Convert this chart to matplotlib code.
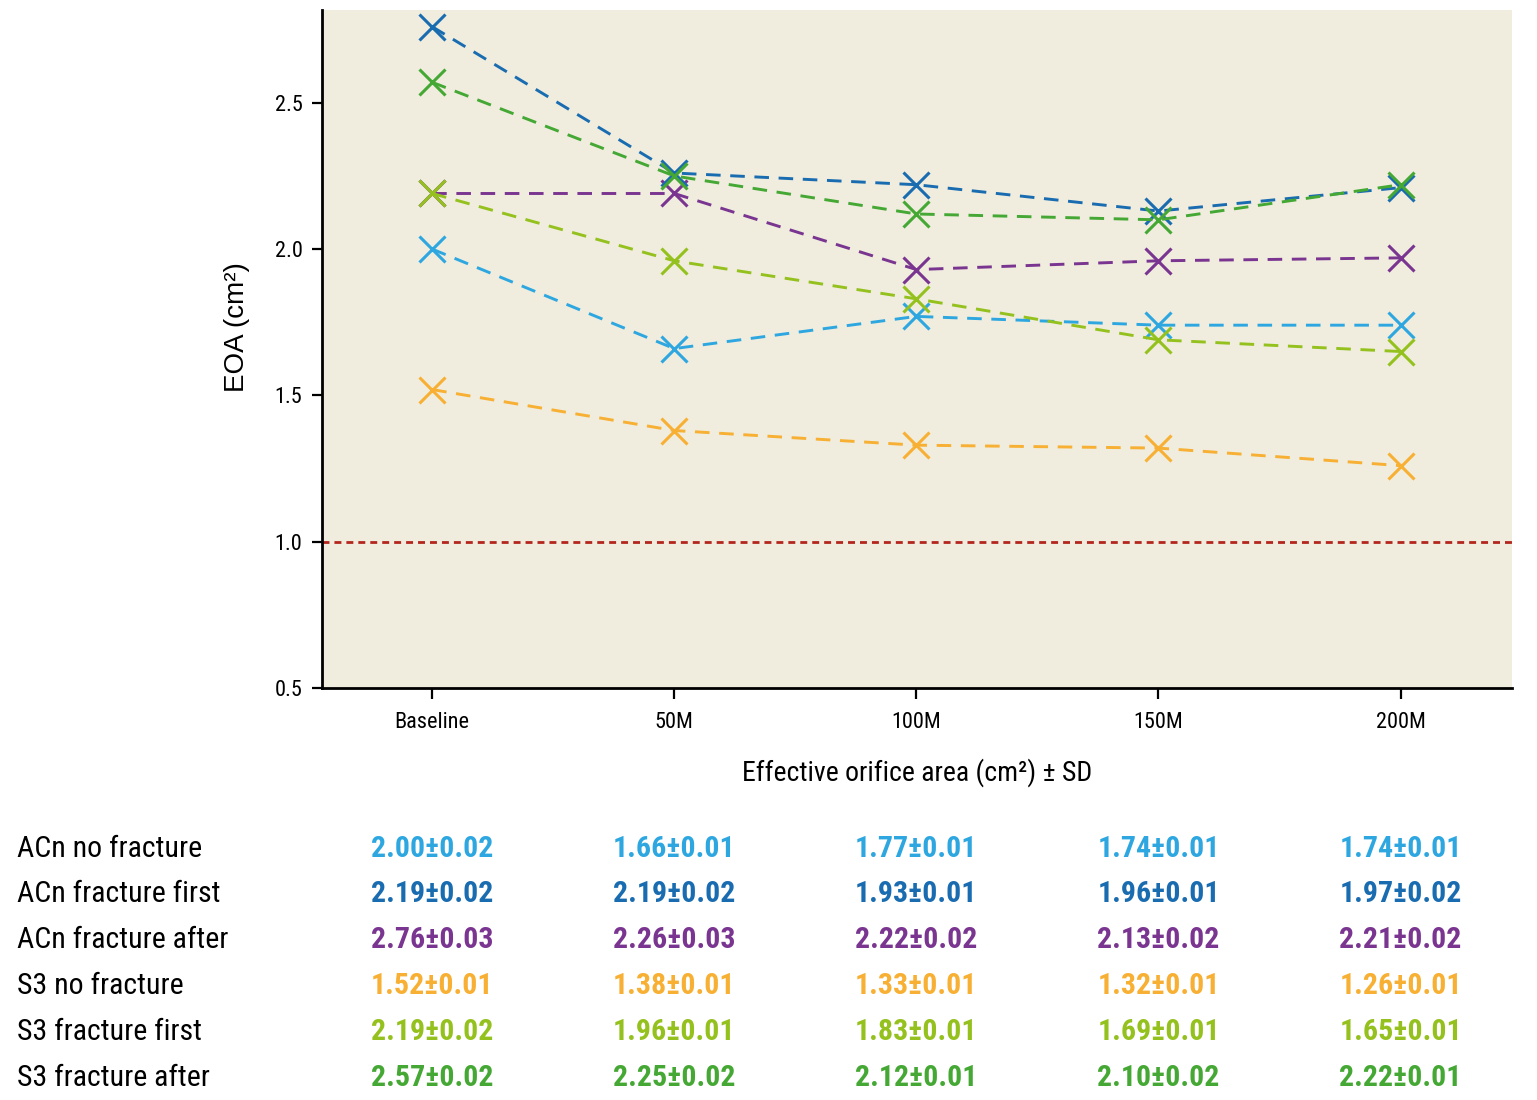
import numpy as np
import matplotlib
matplotlib.use('Agg')
import matplotlib.pyplot as plt
import matplotlib.transforms as mtransforms
import matplotlib.font_manager as fm

# look for a narrow sans face, the reference uses a condensed font
_names = {(f.name, str(f.stretch)) for f in fm.fontManager.ttflist}
_narrow = ['condensed', 'semi-condensed', 'extra-condensed', 'ultra-condensed']
font_name, font_stretch = None, 'normal'
for want in ['Roboto Condensed', 'Liberation Sans Narrow', 'Open Sans Condensed',
             'Noto Sans Condensed']:
    if any(n == want for n, s in _names):
        font_name = want
        break
if font_name is None:
    for base in ['DejaVu Sans', 'Roboto', 'Noto Sans', 'Open Sans']:
        hits = [s for n, s in _names if n == base and s in _narrow]
        if hits:
            font_name, font_stretch = base, hits[0]
            break
if font_name is None:
    font_name = 'DejaVu Sans'
narrow = font_name != 'DejaVu Sans' or font_stretch != 'normal'
k = 1.0 if narrow else 0.8

plt.rcParams['font.family'] = [font_name, 'DejaVu Sans']
plt.rcParams['font.stretch'] = font_stretch

# data
timepoints = ['Baseline', '50M', '100M', '150M', '200M']
series_names = ['ACn no fracture', 'ACn fracture first', 'ACn fracture after',
                'S3 no fracture', 'S3 fracture first', 'S3 fracture after']
acn_no = [2.00, 1.66, 1.77, 1.74, 1.74]
acn_first = [2.19, 2.19, 1.93, 1.96, 1.97]
acn_after = [2.76, 2.26, 2.22, 2.13, 2.21]
s3_no = [1.52, 1.38, 1.33, 1.32, 1.26]
s3_first = [2.19, 1.96, 1.83, 1.69, 1.65]
s3_after = [2.57, 2.25, 2.12, 2.10, 2.22]
acn_no_sd = [0.02, 0.01, 0.01, 0.01, 0.01]
acn_first_sd = [0.02, 0.02, 0.01, 0.01, 0.02]
acn_after_sd = [0.03, 0.03, 0.02, 0.02, 0.02]
s3_no_sd = [0.01, 0.01, 0.01, 0.01, 0.01]
s3_first_sd = [0.02, 0.01, 0.01, 0.01, 0.01]
s3_after_sd = [0.02, 0.02, 0.01, 0.02, 0.01]
threshold = 1.0

means = [acn_no, acn_first, acn_after, s3_no, s3_first, s3_after]
sds = [acn_no_sd, acn_first_sd, acn_after_sd, s3_no_sd, s3_first_sd, s3_after_sd]

c_lblue = '#2ea7e0'
c_dblue = '#1a6cb0'
c_purple = '#7a3590'
c_orange = '#f7b033'
c_lime = '#95c11f'
c_green = '#45a834'
table_colors = [c_lblue, c_dblue, c_purple, c_orange, c_lime, c_green]
# in the chart the two ACn fracture lines have their colours swapped
line_colors = [c_lblue, c_purple, c_dblue, c_orange, c_lime, c_green]

fig = plt.figure(figsize=(15.37, 11), dpi=100)
ax = fig.add_axes([0.2095, 0.3745, 0.7742, 0.6164])
ax.set_facecolor('#f0edde')

x = np.arange(len(timepoints))
ax.axhline(threshold, color='#b3261e', lw=2, ls=(0, (2.5, 1.8)), zorder=1)
for vals, col in zip(means, line_colors):
    ax.plot(x, vals, color=col, lw=2.1, ls=(0, (5, 3.3)), marker='x',
            ms=19, mew=2.2, zorder=3)

ax.set_xlim(-0.455, 4.46)
ax.set_ylim(0.5, 2.817)
ax.set_yticks([0.5, 1.0, 1.5, 2.0, 2.5])
ax.set_yticklabels(['0.5', '1.0', '1.5', '2.0', '2.5'])
ax.set_xticks(x)
ax.set_xticklabels(timepoints)
for s in ['top', 'right']:
    ax.spines[s].set_visible(False)
for s in ['left', 'bottom']:
    ax.spines[s].set_linewidth(2)
ax.tick_params(axis='y', length=7, width=1.6, pad=7, labelsize=16 * k)
ax.tick_params(axis='x', length=8, width=1.6, pad=9, labelsize=16 * k)
# y label is set in a regular (not condensed) sans in the reference
ax.set_ylabel('EOA (cm²)', fontsize=20, va='center',
              family=['Liberation Sans', 'DejaVu Sans'], stretch='normal')
ax.yaxis.set_label_coords(-0.0714, 0.532)

fig.text(0.5965, 1 - 773 / 1100, 'Effective orifice area (cm²) ± SD',
         ha='center', va='center', fontsize=20 * k)

# table under the chart
trans = mtransforms.blended_transform_factory(ax.transData, fig.transFigure)
row_y = [849, 894, 940, 986, 1032, 1078]
for name, vals, errs, col, yp in zip(series_names, means, sds, table_colors, row_y):
    yf = 1 - yp / 1100
    fig.text(17 / 1537, yf, name, ha='left', va='center', fontsize=21.5 * k)
    for i, (v, e) in enumerate(zip(vals, errs)):
        fig.text(x[i], yf, '{:.2f}±{:.2f}'.format(v, e), transform=trans,
                 ha='center', va='center', fontsize=21.5 * k, fontweight='bold',
                 color=col)

fig.savefig('out.png', dpi=100)
